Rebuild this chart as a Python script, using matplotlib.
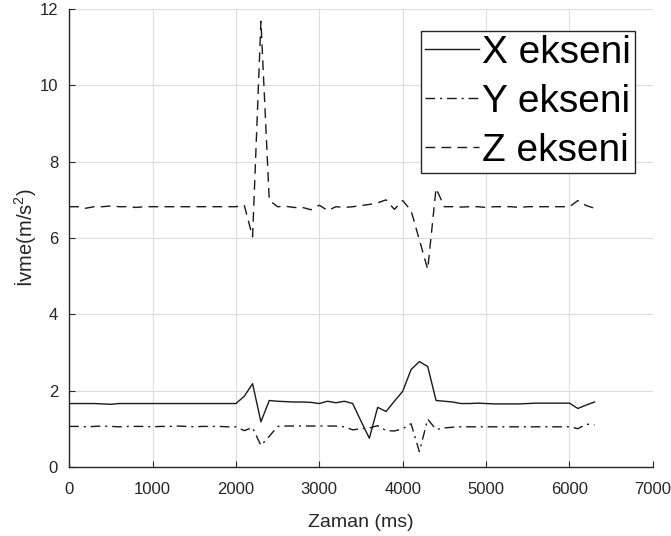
import matplotlib
matplotlib.use("Agg")
import matplotlib.pyplot as plt
import numpy as np

plt.rcParams['font.family'] = ['Liberation Sans', 'DejaVu Sans']
plt.rcParams['mathtext.fontset'] = 'custom'
plt.rcParams['mathtext.rm'] = 'Liberation Sans'
plt.rcParams['mathtext.it'] = 'Liberation Sans'

t = list(range(0, 6400, 100))

x_axis = [1.66, 1.66, 1.66, 1.66, 1.65, 1.64, 1.66, 1.66, 1.66, 1.66,
          1.66, 1.66, 1.66, 1.66, 1.66, 1.66, 1.66, 1.66, 1.66, 1.66,
          1.66, 1.85, 2.18, 1.18, 1.74, 1.72, 1.71, 1.70, 1.70, 1.69,
          1.66, 1.72, 1.68, 1.72, 1.66, 1.20, 0.75, 1.56, 1.45, 1.72,
          1.98, 2.55, 2.76, 2.63, 1.74, 1.72, 1.70, 1.66, 1.66, 1.67,
          1.66, 1.65, 1.65, 1.65, 1.65, 1.66, 1.67, 1.67, 1.67, 1.67,
          1.67, 1.53, 1.62, 1.70]

y_axis = [1.06, 1.06, 1.05, 1.06, 1.07, 1.06, 1.05, 1.06, 1.06, 1.06,
          1.05, 1.06, 1.06, 1.07, 1.06, 1.05, 1.06, 1.06, 1.06, 1.05,
          1.05, 0.95, 1.03, 0.56, 0.80, 1.06, 1.07, 1.07, 1.07, 1.07,
          1.07, 1.07, 1.07, 1.05, 0.97, 1.00, 1.02, 1.08, 0.95, 0.94,
          1.00, 1.13, 0.40, 1.25, 0.98, 1.02, 1.04, 1.05, 1.05, 1.05,
          1.05, 1.05, 1.05, 1.05, 1.05, 1.05, 1.05, 1.05, 1.05, 1.05,
          1.05, 1.00, 1.12, 1.10]

z_axis = [6.82, 6.82, 6.78, 6.82, 6.82, 6.84, 6.82, 6.82, 6.80, 6.82,
          6.82, 6.82, 6.82, 6.82, 6.82, 6.82, 6.82, 6.82, 6.82, 6.82,
          6.82, 6.86, 6.03, 11.68, 6.99, 6.82, 6.83, 6.80, 6.80, 6.74,
          6.86, 6.72, 6.82, 6.80, 6.82, 6.85, 6.88, 6.92, 7.00, 6.75,
          6.98, 6.72, 5.95, 5.18, 7.30, 6.82, 6.82, 6.81, 6.82, 6.82,
          6.80, 6.82, 6.82, 6.82, 6.80, 6.82, 6.82, 6.82, 6.82, 6.82,
          6.82, 6.98, 6.85, 6.78]

labels = ['X ekseni', 'Y ekseni', 'Z ekseni']
xticks = [0, 1000, 2000, 3000, 4000, 5000, 6000, 7000]
yticks = [0, 2, 4, 6, 8, 10, 12]

fig = plt.figure(figsize=(6.71, 5.36), dpi=100)
ax = fig.add_axes([0.103, 0.129, 0.870, 0.854])

lc = '#1a1a1a'
ax.plot(t, x_axis, color=lc, lw=1.0, linestyle='-', label=labels[0])
ax.plot(t, y_axis, color=lc, lw=1.0, linestyle=(0, (7, 3.5, 1.5, 3.5)), label=labels[1])
ax.plot(t, z_axis, color=lc, lw=1.0, linestyle=(0, (7, 4.5)), label=labels[2])

ax.set_xlim(0, 7000)
ax.set_ylim(0, 12)
ax.set_xticks(xticks)
ax.set_yticks(yticks)
ax.grid(True, color='#dcdcdc', lw=0.8)
ax.set_axisbelow(True)
for s in ['top', 'right']:
    ax.spines[s].set_visible(False)
for s in ['left', 'bottom']:
    ax.spines[s].set_color('#262626')
    ax.spines[s].set_linewidth(1.0)
ax.tick_params(direction='in', length=4, colors='#262626', labelsize=12,
               labelcolor='#262626')
ax.tick_params(axis='x', pad=11)
ax.tick_params(axis='y', pad=8)
ax.set_xlabel('Zaman (ms)', fontsize=14, color='#262626', labelpad=12)
ax.set_ylabel('İvme(m/s$^2$)', fontsize=14.5, color='#262626', labelpad=1)

leg = ax.legend(loc='upper right', fontsize=28, frameon=True, fancybox=False,
                handlelength=1.4, handletextpad=0.08, borderpad=0.1,
                labelspacing=0.33, borderaxespad=0.0,
                bbox_to_anchor=(1 - 18 / 584, 1 - 22 / 458))
leg.get_frame().set_edgecolor('#262626')
leg.get_frame().set_linewidth(1.0)
leg.get_frame().set_alpha(1.0)

fig.savefig('out.png', dpi=100)
